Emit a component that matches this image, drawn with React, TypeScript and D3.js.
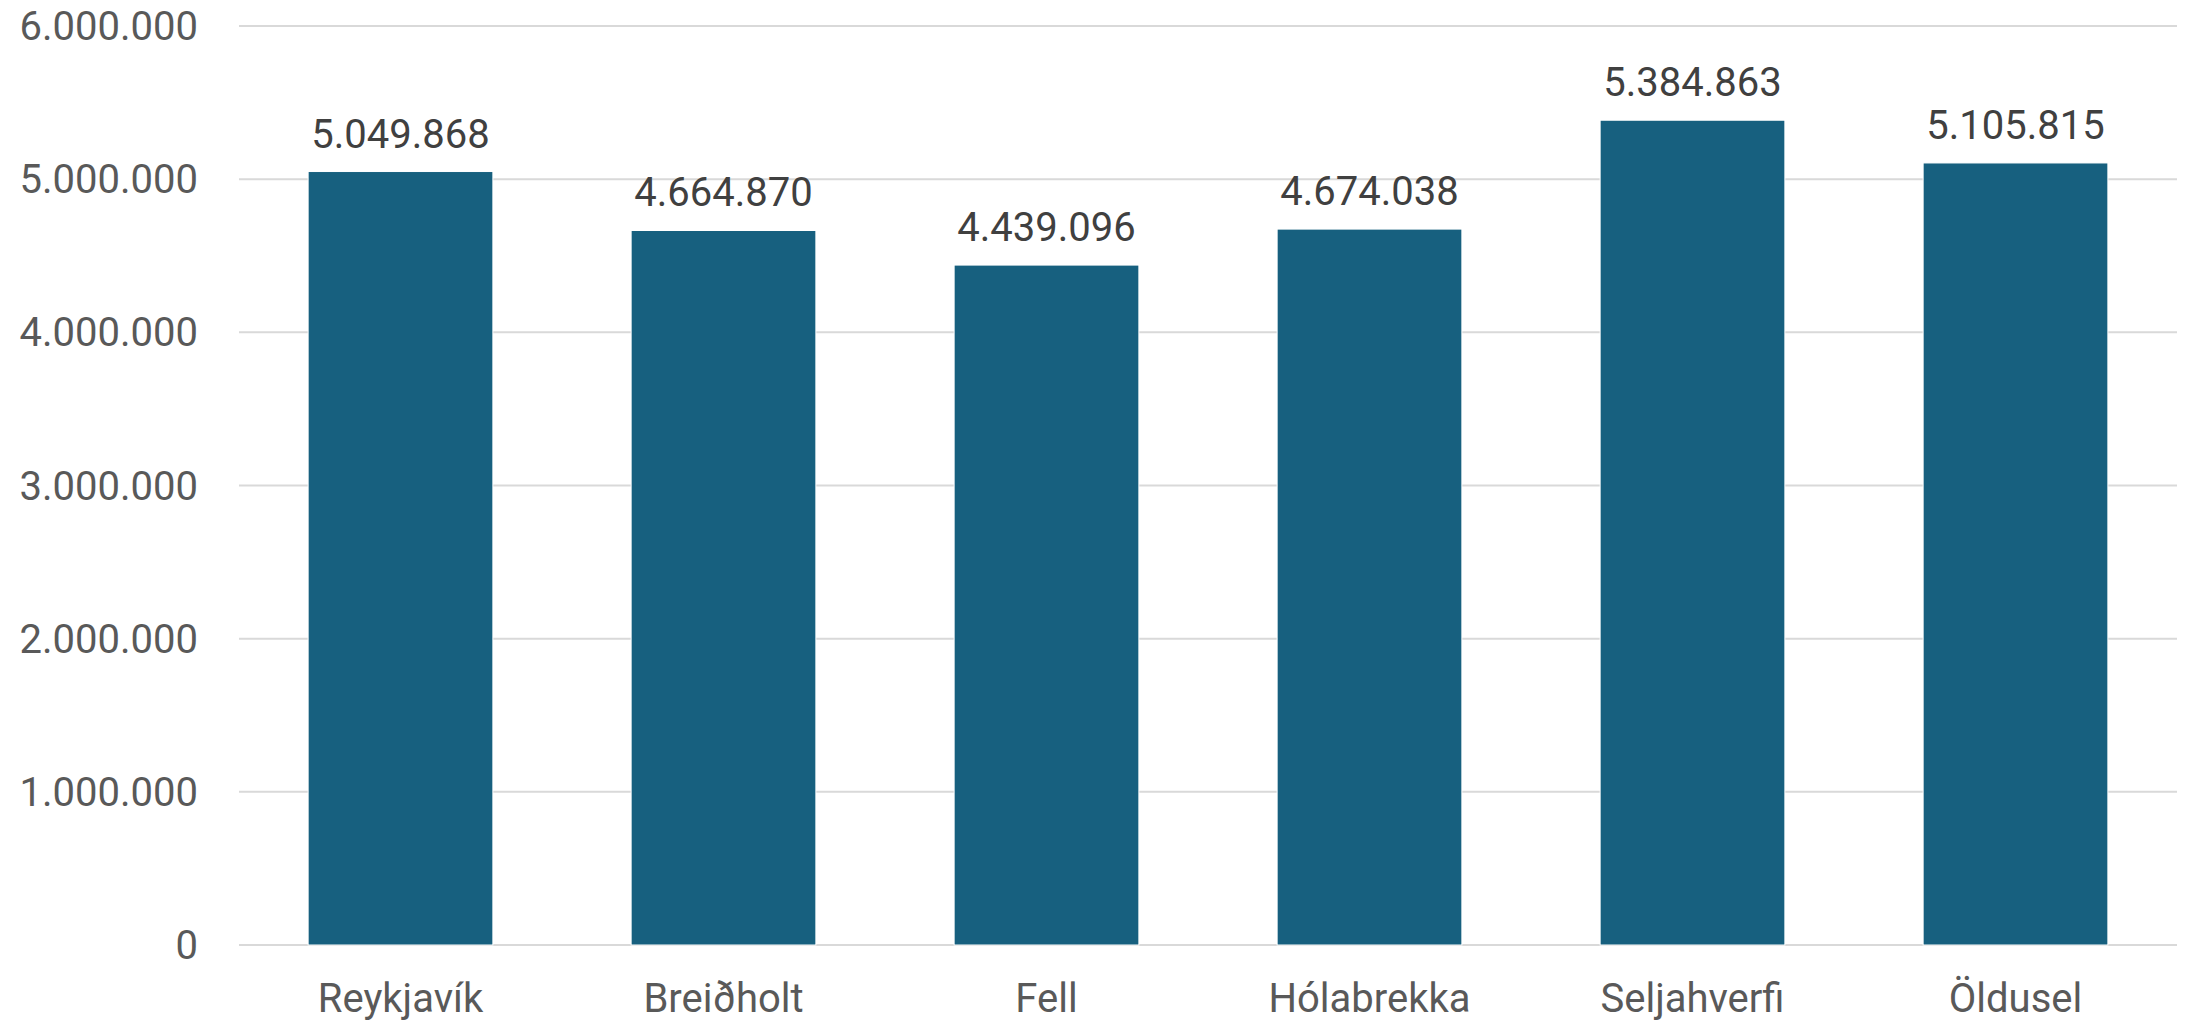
import React, { useRef, useEffect } from "react";
import * as d3 from "d3";

const categories = ["Reykjavík", "Breiðholt", "Fell", "Hólabrekka", "Seljahverfi", "Öldusel"];
const values = [5049868, 4664870, 4439096, 4674038, 5384863, 5105815];
const yTicks = [0, 1000000, 2000000, 3000000, 4000000, 5000000, 6000000];

const W = 2188;
const H = 1021;

// Icelandic style thousands separator
const fmt = (v: number) => d3.format(",")(v).replace(/,/g, ".");

export default function App() {
  const svgRef = useRef<SVGSVGElement>(null);

  useEffect(() => {
    document.body.style.margin = "0";
    if (!svgRef.current) return;

    const margin = { top: 26, right: 11, bottom: 76, left: 239 };
    const innerW = W - margin.left - margin.right;
    const innerH = H - margin.top - margin.bottom;

    const svg = d3.select(svgRef.current);
    svg.selectAll("*").remove();

    const g = svg.append("g").attr("transform", `translate(${margin.left},${margin.top})`);

    const x = d3.scaleBand<string>().domain(categories).range([0, innerW]).paddingInner(0.428).paddingOuter(0.214);
    const y = d3.scaleLinear().domain([0, 6000000]).range([innerH, 0]);

    // gridlines
    g.selectAll("line.grid")
      .data(yTicks)
      .join("line")
      .attr("class", "grid")
      .attr("x1", 0)
      .attr("x2", innerW)
      .attr("y1", d => y(d))
      .attr("y2", d => y(d))
      .attr("stroke", "#d9d9d9")
      .attr("stroke-width", 2);

    // y labels
    g.selectAll("text.ylab")
      .data(yTicks)
      .join("text")
      .attr("class", "ylab")
      .attr("x", -41)
      .attr("y", d => y(d))
      .attr("dy", "0.35em")
      .attr("text-anchor", "end")
      .attr("font-family", "Roboto")
      .attr("font-size", 40)
      .attr("fill", "#595959")
      .text(d => fmt(d));

    // bars
    g.selectAll("rect.bar")
      .data(values)
      .join("rect")
      .attr("class", "bar")
      .attr("x", (_, i) => x(categories[i])!)
      .attr("y", d => y(d))
      .attr("width", x.bandwidth())
      .attr("height", d => innerH - y(d))
      .attr("fill", "#17607f")
      .attr("stroke", "#ffffff")
      .attr("stroke-width", 1);

    // value labels
    g.selectAll("text.vlab")
      .data(values)
      .join("text")
      .attr("class", "vlab")
      .attr("x", (_, i) => x(categories[i])! + x.bandwidth() / 2)
      .attr("y", d => y(d) - 24)
      .attr("text-anchor", "middle")
      .attr("font-family", "Roboto")
      .attr("font-size", 40)
      .attr("fill", "#404040")
      .text(d => fmt(d));

    // category labels
    g.selectAll("text.xlab")
      .data(categories)
      .join("text")
      .attr("class", "xlab")
      .attr("x", d => x(d)! + x.bandwidth() / 2)
      .attr("y", innerH + 67)
      .attr("text-anchor", "middle")
      .attr("font-family", "Roboto")
      .attr("font-size", 40)
      .attr("fill", "#595959")
      .text(d => d);
  }, []);

  return <svg ref={svgRef} width={W} height={H} style={{ display: "block", background: "#fff" }} />;
}
